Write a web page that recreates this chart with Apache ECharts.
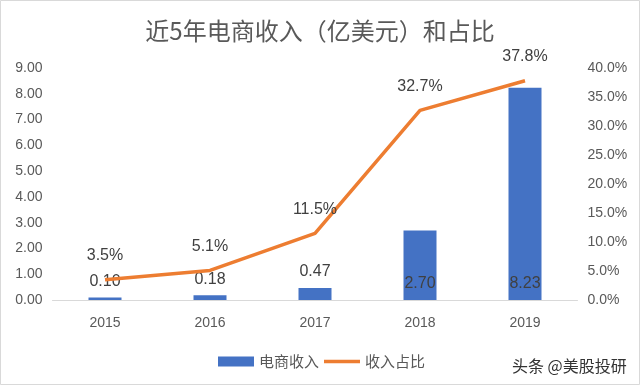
<!DOCTYPE html>
<html><head><meta charset="utf-8">
<script src="https://cdn.jsdelivr.net/npm/echarts@6/dist/echarts.min.js"></script>
<style>html,body{margin:0;padding:0;background:#fff}#c{width:640px;height:385px}</style>
</head><body><div id="c"></div>
<script>
var categories = ['2015','2016','2017','2018','2019'];
var revenue = [0.10, 0.18, 0.47, 2.70, 8.23];
var share = [3.5, 5.1, 11.5, 32.7, 37.8];
var leftTicks = {min:0, max:9, interval:1};
var rightTicks = {min:0, max:40, interval:5};

var chart = echarts.init(document.getElementById('c'), null, {renderer:'canvas'});
var font = '"Liberation Sans", Arial, sans-serif';
var cjk = '"Noto Sans CJK SC", sans-serif';
chart.setOption({
  animation:false,
  backgroundColor:'#fff',
  title:{text:'近5年电商收入（亿美元）和占比', left:'center', top:14,
    textStyle:{fontFamily:cjk, fontSize:24, fontWeight:'normal', color:'#595959'}},
  graphic:[
    {type:'rect', shape:{x:0.5,y:0.5,width:639,height:384}, style:{fill:'none', stroke:'#d9d9d9', lineWidth:1}},
    {type:'text', left:512, top:358, style:{text:'头条 @美股投研', fontFamily:cjk, fontSize:16, fill:'#333'}}
  ],
  legend:{top:349, left:213, itemGap:5, itemWidth:36, itemHeight:10,
    textStyle:{fontFamily:cjk, fontSize:15, color:'#595959'},
    data:[{name:'电商收入', icon:'rect'},{name:'收入占比', icon:'path://M0,0H36V3.5H0Z'}]},
  grid:{left:52.5, right:62.5, top:68, bottom:85, containLabel:false},
  xAxis:{type:'category', data:categories,
    axisLine:{lineStyle:{color:'#d9d9d9'}}, axisTick:{show:false},
    axisLabel:{fontFamily:font, fontSize:14, color:'#595959', margin:16}},
  yAxis:[
    {type:'value', min:leftTicks.min, max:leftTicks.max, interval:leftTicks.interval,
      splitLine:{show:false}, axisLine:{show:false}, axisTick:{show:false},
      axisLabel:{fontFamily:font, fontSize:14, color:'#595959', margin:10,
        formatter:function(v){return v.toFixed(2);}}},
    {type:'value', min:rightTicks.min, max:rightTicks.max, interval:rightTicks.interval,
      splitLine:{show:false}, axisLine:{show:false}, axisTick:{show:false},
      axisLabel:{fontFamily:font, fontSize:14, color:'#595959', margin:10,
        formatter:function(v){return v.toFixed(1)+'%';}}}
  ],
  series:[
    {name:'电商收入', type:'bar', data:revenue.map(function(v,i){
        return {value:v, label:{position: i>=3 ? 'insideBottom' : 'top', distance: 8}};
      }),
      barWidth:33, itemStyle:{color:'#4472C4'},
      label:{show:true, fontFamily:font, fontSize:16, color:'#404040',
        formatter:function(p){return p.value.toFixed(2);}}},
    {name:'收入占比', type:'line', yAxisIndex:1, data:share,
      symbol:'circle', symbolSize:0.1, showSymbol:true,
      lineStyle:{color:'#ED7D31', width:3.5}, itemStyle:{color:'#ED7D31'},
      label:{show:true, position:'top', distance:16, fontFamily:font, fontSize:16, color:'#404040',
        formatter:function(p){return p.value.toFixed(1)+'%';}}}
  ]
});
</script></body></html>
